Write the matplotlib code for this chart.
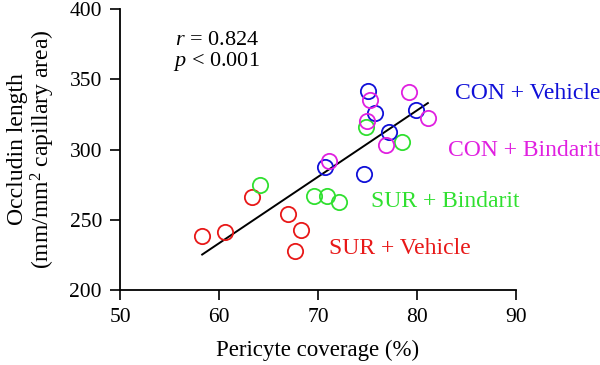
import numpy as np
import matplotlib
matplotlib.use("Agg")
import matplotlib.pyplot as plt

plt.rcParams['font.family'] = ['Liberation Serif', 'DejaVu Serif']
plt.rcParams['mathtext.fontset'] = 'custom'
plt.rcParams['mathtext.it'] = 'Liberation Serif:italic'
plt.rcParams['mathtext.rm'] = 'Liberation Serif'

# pericyte coverage (%) / occludin length per group
sur_veh_x = [58.3, 60.6, 63.3, 67.0, 68.3, 67.7]
sur_veh_y = [238.6, 241.0, 266.0, 254.0, 242.7, 227.8]
sur_bin_x = [64.1, 69.6, 70.9, 72.1, 74.8, 78.5]
sur_bin_y = [275.0, 267.0, 267.0, 263.0, 316.2, 305.5]
con_veh_x = [70.7, 74.6, 75.0, 75.8, 77.2, 79.9]
con_veh_y = [287.8, 282.6, 341.6, 325.8, 312.7, 328.3]
con_bin_x = [71.1, 74.9, 75.3, 76.9, 79.2, 81.1]
con_bin_y = [292.0, 320.3, 335.2, 303.0, 340.7, 322.2]

groups = [
    ("SUR + Vehicle", sur_veh_x, sur_veh_y, '#E81818'),
    ("SUR + Bindarit", sur_bin_x, sur_bin_y, '#30E030'),
    ("CON + Vehicle", con_veh_x, con_veh_y, '#1010D8'),
    ("CON + Bindarit", con_bin_x, con_bin_y, '#E020E0'),
]
# label anchor (data coords)
label_pos = {
    "SUR + Vehicle": (71.1, 225.6),
    "SUR + Bindarit": (75.35, 259.0),
    "CON + Vehicle": (83.85, 336.0),
    "CON + Bindarit": (83.1, 295.4),
}

fig = plt.figure(figsize=(6.0, 3.65), dpi=100)
ax = fig.add_axes([0.2, 0.2055, 0.66, 0.7695])

all_x, all_y = [], []
for name, xs, ys, col in groups:
    ax.plot(xs, ys, 'o', mfc='none', mec=col, mew=1.3, ms=11, zorder=3)
    all_x += xs
    all_y += ys
    lx, ly = label_pos[name]
    ax.text(lx, ly, name, color=col, fontsize=17, ha='left', va='baseline',
            clip_on=False)

all_x = np.array(all_x)
all_y = np.array(all_y)
k, b = np.polyfit(all_x, all_y, 1)
xx = np.array([all_x.min(), all_x.max()])
ax.plot(xx, k * xx + b, color='black', lw=1.4, zorder=2)

ax.text(0.139, 0.872, r'$r$ = 0.824', transform=ax.transAxes, fontsize=16,
        va='baseline')
ax.text(0.134, 0.797, r'$p$ < 0.001', transform=ax.transAxes, fontsize=16,
        va='baseline')

ax.set_xlim(50, 90)
ax.set_ylim(200, 400)
ax.set_xticks([50, 60, 70, 80, 90])
ax.set_yticks([200, 250, 300, 350, 400])
ax.spines['top'].set_visible(False)
ax.spines['right'].set_visible(False)
for s in ('left', 'bottom'):
    ax.spines[s].set_linewidth(1.3)
ax.tick_params(direction='out', length=7, width=1.2, labelsize=15.5, pad=6)
ax.set_xlabel('Pericyte coverage (%)', fontsize=16.5, labelpad=9)
ax.set_ylabel('Occludin length\n(mm/mm$^2$ capillary area)', fontsize=17,
              labelpad=9, linespacing=1.05)

fig.savefig('out.png', dpi=100)
